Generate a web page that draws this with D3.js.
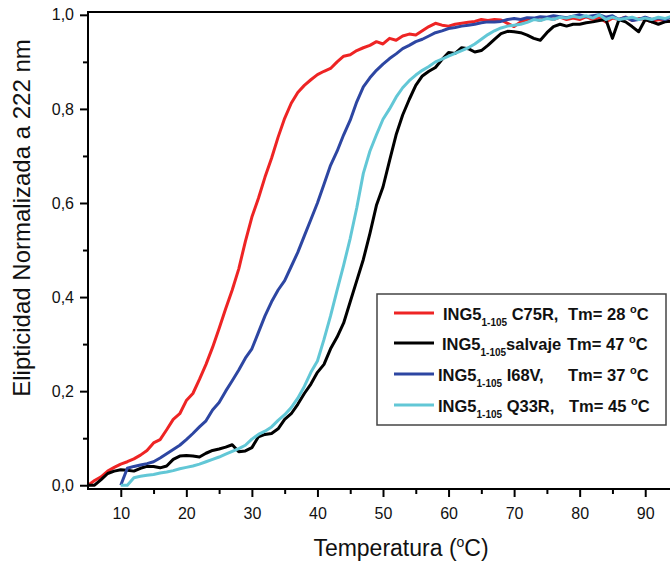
<!DOCTYPE html>
<html>
<head>
<meta charset="utf-8">
<script src="https://cdn.jsdelivr.net/npm/d3@7"></script>
<style>
  body { margin: 0; background: #fff; }
  svg { display: block; font-family: "Liberation Sans", Arial, sans-serif; }
</style>
</head>
<body>
<div id="chart"></div>
<script>
// temperature grid, 1 °C steps
const temps = d3.range(5, 96);

// normalised ellipticity at 222 nm (null = not measured)
const c75r = [0.00, 0.01, 0.018, 0.03, 0.038, 0.045, 0.05, 0.056, 0.064, 0.074,
  0.09, 0.097, 0.118, 0.14, 0.152, 0.18, 0.195, 0.225, 0.257, 0.293,
  0.333, 0.375, 0.415, 0.46, 0.518, 0.57, 0.61, 0.655, 0.695, 0.74,
  0.78, 0.812, 0.835, 0.85, 0.862, 0.873, 0.88, 0.886, 0.9, 0.912,
  0.915, 0.924, 0.93, 0.935, 0.943, 0.938, 0.95, 0.946, 0.955, 0.959,
  0.957, 0.966, 0.975, 0.982, 0.978, 0.976, 0.98, 0.982, 0.984, 0.986,
  0.99, 0.988, 0.99, 0.989, 0.982, 0.975, 0.985, 0.99, 0.992, 0.988,
  0.994, 0.99, 0.995, 0.99, 0.993, 0.99, 0.996, 0.99, 0.994, 0.985,
  0.993, 0.99, 0.995, 0.988, 0.992, 0.99, 0.985, 0.99, 0.988, 0.985, 0.99];

const salvaje = [0.00, 0.00, 0.012, 0.025, 0.03, 0.033, 0.032, 0.03, 0.036, 0.04,
  0.04, 0.037, 0.041, 0.055, 0.062, 0.063, 0.062, 0.06, 0.068, 0.074,
  0.077, 0.081, 0.086, 0.071, 0.073, 0.08, 0.103, 0.108, 0.11, 0.12,
  0.14, 0.152, 0.172, 0.195, 0.215, 0.24, 0.257, 0.29, 0.315, 0.345,
  0.39, 0.435, 0.48, 0.535, 0.595, 0.634, 0.69, 0.745, 0.787, 0.82,
  0.85, 0.87, 0.88, 0.888, 0.905, 0.92, 0.918, 0.93, 0.928, 0.921,
  0.924, 0.935, 0.948, 0.96, 0.965, 0.964, 0.962, 0.957, 0.95, 0.946,
  0.962, 0.975, 0.98, 0.976, 0.98, 0.98, 0.983, 0.985, 0.988, 0.99,
  0.95, 0.99, 0.985, 0.975, 0.964, 0.99, 0.985, 0.98, 0.985, 0.987, 0.985];

const i68v = [null, null, null, null, null, 0.0, 0.036, 0.04, 0.043, 0.046,
  0.05, 0.058, 0.067, 0.076, 0.085, 0.097, 0.11, 0.124, 0.137, 0.16,
  0.176, 0.2, 0.222, 0.245, 0.27, 0.29, 0.325, 0.36, 0.39, 0.415,
  0.435, 0.465, 0.495, 0.53, 0.565, 0.6, 0.64, 0.68, 0.71, 0.745,
  0.776, 0.815, 0.847, 0.866, 0.882, 0.895, 0.907, 0.917, 0.928, 0.935,
  0.943, 0.948, 0.955, 0.962, 0.966, 0.971, 0.973, 0.976, 0.978, 0.98,
  0.983, 0.985, 0.985, 0.986, 0.99, 0.992, 0.99, 0.994, 0.993, 0.996,
  0.995, 0.998, 0.996, 0.994, 0.997, 1.0, 0.996, 0.998, 1.0, 0.995,
  0.998, 0.99, 0.995, 0.988, 0.99, 0.995, 0.99, 0.993, 0.99, 0.995, 0.992];

const q33r = [null, null, null, null, null, 0.0, 0.0, 0.016, 0.019, 0.021,
  0.023, 0.026, 0.028, 0.031, 0.035, 0.038, 0.041, 0.045, 0.05, 0.055,
  0.06, 0.066, 0.072, 0.078, 0.085, 0.098, 0.108, 0.115, 0.124, 0.138,
  0.15, 0.165, 0.185, 0.21, 0.24, 0.264, 0.31, 0.36, 0.415, 0.468,
  0.525, 0.59, 0.663, 0.71, 0.745, 0.778, 0.8, 0.825, 0.845, 0.86,
  0.872, 0.882, 0.89, 0.9, 0.906, 0.912, 0.918, 0.924, 0.93, 0.938,
  0.948, 0.958, 0.966, 0.972, 0.976, 0.978, 0.98, 0.984, 0.99, 0.988,
  0.992, 0.99, 0.995, 0.993, 0.997, 0.994, 0.998, 0.993, 1.0, 0.99,
  0.995, 0.99, 0.992, 0.995, 0.99, 0.993, 0.99, 0.995, 0.992, 0.997, 1.0];

const seriesNames = ["C75R", "salvaje", "I68V", "Q33R"];
const seriesValues = [c75r, salvaje, i68v, q33r];
const seriesColors = ["#ee2424", "#000000", "#2d46a2", "#62c7d6"];
const tmValues = [28, 47, 37, 45];

const xMajor = [10, 20, 30, 40, 50, 60, 70, 80, 90];
const xMinor = [15, 25, 35, 45, 55, 65, 75, 85];
const yMajor = [0, 0.2, 0.4, 0.6, 0.8, 1.0];
const yMinor = [0.1, 0.3, 0.5, 0.7, 0.9];

const width = 670, height = 561;

const svg = d3.select("#chart").append("svg")
  .attr("width", width)
  .attr("height", height);

const x = d3.scaleLinear().domain([5, 95]).range([88, 678]);
const y = d3.scaleLinear().domain([-0.008, 1.006]).range([489, 12]);

const comma = v => d3.format(".1f")(v).replace(".", ",");

svg.append("clipPath").attr("id", "plot")
  .append("rect")
  .attr("x", x(5)).attr("y", y(1.006))
  .attr("width", x(95) - x(5)).attr("height", y(-0.008) - y(1.006));

// curves
const line = d3.line()
  .defined(d => d[1] != null)
  .x(d => x(d[0]))
  .y(d => y(d[1]));

svg.append("g").attr("clip-path", "url(#plot)")
  .selectAll("path")
  .data(seriesValues)
  .enter()
  .append("path")
  .attr("d", vals => line(temps.map((t, i) => [t, vals[i]])))
  .attr("fill", "none")
  .attr("stroke", (d, i) => seriesColors[i])
  .attr("stroke-width", 3)
  .attr("stroke-linejoin", "round");

// axes
function styleAxis(g) {
  g.select(".domain").remove();
  g.selectAll(".tick line").attr("stroke", "#000").attr("stroke-width", 2);
  g.selectAll(".tick text").attr("font-size", 16).attr("fill", "#111")
    .attr("font-family", "'Liberation Sans', Arial, sans-serif");
}

svg.append("g")
  .attr("transform", `translate(0,${y(-0.008)})`)
  .call(d3.axisBottom(x).tickValues(xMajor).tickSize(8).tickPadding(11).tickFormat(d3.format("d")))
  .call(styleAxis);

svg.append("g")
  .attr("transform", `translate(0,${y(-0.008)})`)
  .call(d3.axisBottom(x).tickValues(xMinor).tickSize(5).tickFormat(""))
  .call(styleAxis);

svg.append("g")
  .attr("transform", `translate(${x(5)},0)`)
  .call(d3.axisLeft(y).tickValues(yMajor).tickSize(8).tickPadding(6).tickFormat(comma))
  .call(styleAxis);

svg.append("g")
  .attr("transform", `translate(${x(5)},0)`)
  .call(d3.axisLeft(y).tickValues(yMinor).tickSize(5).tickFormat(""))
  .call(styleAxis);

// frame (right side runs off the picture)
svg.append("rect")
  .attr("x", x(5)).attr("y", y(1.006))
  .attr("width", x(95) - x(5)).attr("height", y(-0.008) - y(1.006))
  .attr("fill", "none")
  .attr("stroke", "#000")
  .attr("stroke-width", 2);

// axis titles
const xt = svg.append("text")
  .attr("x", 401).attr("y", 556)
  .attr("text-anchor", "middle")
  .attr("font-size", 23)
  .attr("fill", "#111");
xt.append("tspan").text("Temperatura (");
xt.append("tspan").attr("font-size", 14).attr("dy", -9).text("o");
xt.append("tspan").attr("dy", 9).text("C)");

svg.append("text")
  .attr("transform", "translate(30,218) rotate(-90)")
  .attr("text-anchor", "middle")
  .attr("font-size", 24)
  .attr("fill", "#111")
  .text("Elipticidad Normalizada a 222 nm");

// legend
const legend = svg.append("g");
legend.append("rect")
  .attr("x", 377).attr("y", 294)
  .attr("width", 289).attr("height", 131)
  .attr("fill", "#fff")
  .attr("stroke", "#444")
  .attr("stroke-width", 1.5);

const rowY = [313, 343, 374, 405];
const labelX = [443, 442, 438, 438];
const tmX = [568, 567, 568, 569];
const suffix = [" C75R,", "salvaje", " I68V,", " Q33R,"];

seriesNames.forEach((name, i) => {
  const row = legend.append("g");
  row.append("line")
    .attr("x1", 394).attr("x2", 434)
    .attr("y1", rowY[i]).attr("y2", rowY[i])
    .attr("stroke", seriesColors[i])
    .attr("stroke-width", 3);

  const t = row.append("text")
    .attr("x", labelX[i]).attr("y", rowY[i] + 7)
    .attr("font-size", 16.5)
    .attr("font-weight", "bold")
    .attr("fill", "#111");
  t.append("tspan").text("ING5");
  t.append("tspan").attr("font-size", 10).attr("dy", 6).text("1-105");
  t.append("tspan").attr("dy", -6).text(suffix[i]);

  const tm = row.append("text")
    .attr("x", tmX[i]).attr("y", rowY[i] + 7)
    .attr("font-size", 16.5)
    .attr("font-weight", "bold")
    .attr("fill", "#111");
  tm.append("tspan").text(`Tm= ${tmValues[i]} `);
  tm.append("tspan").attr("font-size", 11).attr("dy", -7).text("o");
  tm.append("tspan").attr("dy", 7).text("C");
});
</script>
</body>
</html>
